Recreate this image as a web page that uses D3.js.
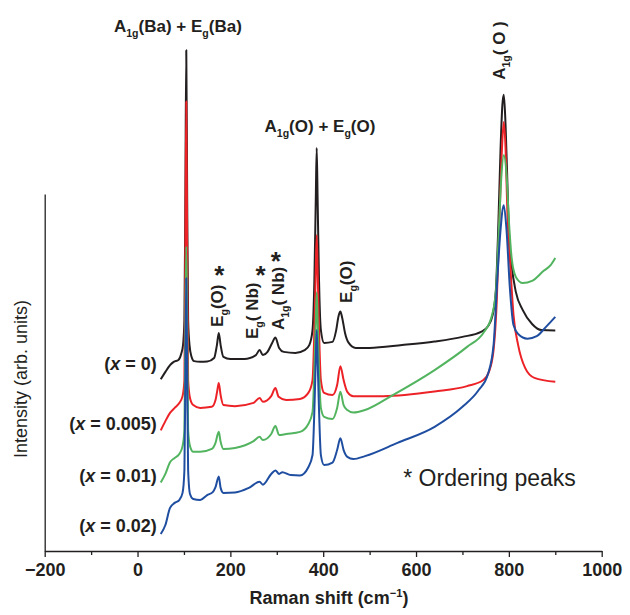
<!DOCTYPE html>
<html>
<head>
<meta charset="utf-8">
<script src="https://cdn.jsdelivr.net/npm/d3@7"></script>
<style>
body { margin: 0; background: #fff; }
svg text { font-family: "Liberation Sans", Arial, Helvetica, sans-serif; fill: #231f20; white-space: pre; }
.axis path, .axis line { stroke: #231f20; stroke-width: 1.3; }
.axis text { font-size: 18px; font-weight: bold; fill: #231f20; }
.spec { fill: none; stroke-width: 2; stroke-linejoin: round; }
.note { font-size: 17px; font-weight: bold; }
</style>
</head>
<body>
<script>
var width = 630,
    height = 615;

// Raman shift ticks (cm-1)
var shiftTicks = [-200, 0, 200, 400, 600, 800, 1000];
var minorTicks = [-100, 100, 300, 500, 700, 900];

// spectra, [shift, intensity] (stacked, arb. units)
var specX0 = [[50,47.8],[60,49.9],[70,51.8],[78,52.7],[88,53.2],[94,54.9],[98,57.4],[101,64.4],[103,98],[105,140],[107,98],[109,64.4],[112,57.4],[116,54.3],[122,52.9],[135,52.7],[150,52.8],[165,53.8],[171,57.4],[175,60.8],[179,57.4],[185,54.1],[200,53.5],[230,53.5],[255,54.6],[263,56.0],[270,54.6],[280,55.5],[290,58.0],[297,59.5],[305,56.6],[315,55.5],[340,55.2],[360,56.0],[370,57.4],[377,61.6],[381,75.6],[384,98],[386,112.6],[388,98],[391,75.6],[395,61.6],[402,58.0],[420,58.3],[428,61.6],[433,65.5],[437,66.8],[441,65.0],[447,60.8],[455,58.0],[470,56.6],[500,56.6],[570,57.4],[640,58.4],[700,59.7],[740,61.1],[755,62.7],[765,65.8],[772,72.8],[777,89.6],[782,112],[786,124.6],[789,127.5],[792,121.8],[796,106.4],[800,89.6],[806,79.8],[815,72.3],[830,67.2],[850,63.3],[870,61.6],[900,61.5]];

var specX005 = [[50,33.5],[60,36.1],[70,38.4],[80,39.8],[90,41.2],[97,43.1],[101,47.6],[103,84.0],[105,125.6],[107,84.0],[109,47.6],[113,42.6],[120,40.6],[135,39.8],[160,40.1],[168,42.0],[172,44.8],[175,46.8],[179,43.4],[185,40.6],[210,40.3],[250,41.2],[263,42.6],[270,41.5],[288,43.1],[297,45.4],[304,42.9],[320,42.0],[350,42.3],[368,44.0],[377,47.6],[381,61.6],[384,78.4],[386,88.2],[388,78.4],[391,61.6],[395,47.6],[402,44.0],[420,43.4],[430,46.2],[437,51.5],[444,47.6],[452,44.3],[465,43.1],[530,43.1],[640,44.4],[710,45.9],[745,47.6],[757,49.9],[767,56.0],[774,70.0],[779,89.6],[785,112],[789,119.9],[793,112],[797,93.8],[803,79.8],[810,65.8],[820,57.4],[835,51.0],[855,48.2],[900,47.1]];

var specX01 = [[50,18.9],[60,21.3],[70,24.6],[80,25.8],[90,26.9],[97,29.1],[101,33.6],[103,61.6],[105,85.0],[107,61.6],[109,33.6],[113,29.1],[120,27.5],[135,27.5],[160,28.3],[168,30.0],[175,33.1],[179,30.3],[185,28.3],[210,28.6],[250,30.5],[263,31.7],[270,30.8],[288,32.5],[297,34.7],[305,32.2],[320,32.5],[350,33.1],[368,35.3],[377,38.7],[381,50.4],[384,64.4],[386,72.1],[388,64.4],[391,50.4],[395,39.8],[402,37.3],[420,36.7],[430,39.8],[437,44.3],[444,40.6],[452,39.2],[465,38.5],[490,39.2],[550,43.4],[640,50.4],[710,56.9],[745,60.8],[762,65.0],[772,72.3],[778,88.2],[784,105],[789,110.6],[795,105],[800,92.4],[806,81.8],[815,76.5],[830,74.8],[850,75.4],[875,78.2],[890,79.8],[900,81.8]];

var specX02 = [[50,4.5],[60,7.0],[70,11.8],[80,13.2],[90,14.0],[97,16.0],[101,22.4],[103,47.6],[105,76.1],[107,47.6],[109,22.4],[113,15.7],[120,14.3],[135,14.0],[150,15.4],[162,16.2],[168,17.6],[175,20.6],[179,17.4],[185,16.0],[210,16.1],[240,17.4],[263,19.1],[270,18.3],[288,21.3],[297,22.3],[305,21.3],[312,21.8],[330,21.0],[350,20.9],[368,23.2],[377,26.6],[381,39.2],[384,53.2],[386,61.6],[388,53.2],[391,39.2],[395,26.6],[402,23.8],[420,24.5],[430,28.0],[437,31.3],[444,28.0],[452,26.1],[465,25.5],[490,26.3],[560,30.0],[640,34.5],[700,40.1],[735,44.8],[755,49.3],[767,57.4],[775,75.6],[782,89.6],[789,96.6],[795,89.6],[802,73.7],[810,63.0],[820,60.5],[840,59.2],[860,59.9],[880,62.5],[900,65.3]];

var seriesNames = ["0", "0.005", "0.01", "0.02"];
var seriesLabelLevel = [50.4, 33.6, 19.1, 5.1];
var seriesColors = ["#231f20", "#ec2227", "#52b45f", "#1f4ea1"];

var x = d3.scaleLinear().domain([-200, 1000]).range([44.7, 601.7]);
var y = d3.scaleLinear().domain([0, 100]).range([550, 193]);

var svg = d3.select("body").append("svg")
    .attr("width", width)
    .attr("height", height);

function fmtShift(d) { return d < 0 ? "\u2212" + (-d) : String(d); }

// axes
svg.append("g")
    .attr("class", "axis")
    .attr("transform", "translate(0,551)")
    .call(d3.axisBottom(x).tickValues(shiftTicks).tickFormat(fmtShift)
      .tickSizeInner(6).tickSizeOuter(0).tickPadding(6));

svg.append("g")
    .attr("class", "axis")
    .attr("transform", "translate(0,551)")
    .call(d3.axisBottom(x).tickValues(minorTicks).tickSize(4).tickFormat(""))
    .select(".domain").remove();

svg.append("g")
    .attr("class", "axis")
    .attr("transform", "translate(" + x(-200) + ",1)")
    .call(d3.axisLeft(y).tickValues([]).tickSizeOuter(0));

// spectra
var line = d3.line()
    .x(function(d) { return x(d[0]); })
    .y(function(d) { return y(d[1]); })
    .curve(d3.curveMonotoneX);

var spectra = [specX0, specX005, specX01, specX02];
spectra.forEach(function(s, i) {
  svg.append("path")
      .datum(s)
      .attr("class", "spec")
      .attr("stroke", seriesColors[i])
      .attr("d", line);
});

// helper for sub/superscripts
function addParts(t, parts) {
  var shift = 0;
  parts.forEach(function(p) {
    var want = p.sub ? 5 : (p.sup ? -7 : 0);
    var s = t.append("tspan").text(p.t).attr("dy", want - shift);
    shift = want;
    if (p.sub || p.sup) s.style("font-size", "0.62em");
    if (p.i) s.style("font-style", "italic");
  });
}

// sample labels
seriesNames.forEach(function(n, i) {
  var t = svg.append("text")
      .attr("x", x(50) - 4)
      .attr("y", y(seriesLabelLevel[i]))
      .attr("dy", "0.36em")
      .attr("text-anchor", "end")
      .style("font-size", "18px")
      .style("font-weight", "bold");
  addParts(t, [{t: "("}, {t: "x", i: true}, {t: " = " + n + ")"}]);
});

// peak labels, horizontal
var t1 = svg.append("text").attr("class", "note")
    .attr("x", x(87)).attr("y", y(145)).attr("text-anchor", "middle");
addParts(t1, [{t: "A"}, {t: "1g", sub: 1}, {t: "(Ba) + E"}, {t: "g", sub: 1}, {t: "(Ba)"}]);

var t2 = svg.append("text").attr("class", "note")
    .attr("x", x(393)).attr("y", y(117)).attr("text-anchor", "middle");
addParts(t2, [{t: "A"}, {t: "1g", sub: 1}, {t: "(O) + E"}, {t: "g", sub: 1}, {t: "(O)"}]);

// peak labels, vertical
var vLabels = [
  {sx: 184, iy: 62.5, parts: [{t: "E"}, {t: "g", sub: 1}, {t: "(O)"}]},
  {sx: 259.5, iy: 59.1, parts: [{t: "E"}, {t: "g", sub: 1}, {t: "( Nb)"}]},
  {sx: 315.5, iy: 61.6, parts: [{t: "A"}, {t: "1g", sub: 1}, {t: "( Nb)"}]},
  {sx: 462, iy: 69.2, parts: [{t: "E"}, {t: "g", sub: 1}, {t: "(O)"}]},
  {sx: 791.5, iy: 131.7, parts: [{t: "A"}, {t: "1g", sub: 1}, {t: "( O )"}]}
];
vLabels.forEach(function(v) {
  var t = svg.append("text").attr("class", "note")
      .attr("transform", "translate(" + x(v.sx) + "," + y(v.iy) + ") rotate(-90)");
  addParts(t, v.parts);
});

// ordering peak asterisks
var starShift = [175, 264, 297];
var starLevel = [78.7, 78.7, 82.6];
starShift.forEach(function(s, i) {
  svg.append("text")
      .attr("x", x(s) + 0.5)
      .attr("y", y(starLevel[i]) + 15)
      .attr("text-anchor", "middle")
      .style("font-size", "26px")
      .style("font-weight", "bold")
      .text("*");
});

svg.append("text")
    .attr("x", x(572.5))
    .attr("y", y(17.9))
    .style("font-size", "23px")
    .text("* Ordering peaks");

// axis titles
var xt = svg.append("text")
    .attr("x", 329).attr("y", 604)
    .attr("text-anchor", "middle")
    .style("font-size", "18px")
    .style("font-weight", "bold");
addParts(xt, [{t: "Raman shift (cm"}, {t: "\u22121", sup: 1}, {t: ")"}]);

svg.append("text")
    .attr("transform", "translate(27,379) rotate(-90)")
    .attr("text-anchor", "middle")
    .style("font-size", "18px")
    .text("Intensity (arb. units)");
</script>
</body>
</html>
